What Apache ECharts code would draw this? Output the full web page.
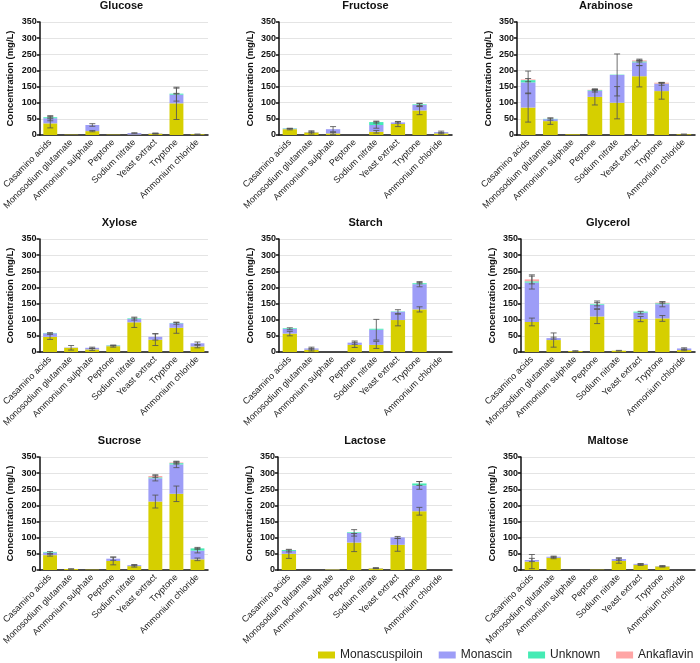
<!DOCTYPE html>
<html>
<head>
    <meta charset="UTF-8">
    <title>Pigments by carbon and nitrogen source</title>
    <script src="https://cdn.jsdelivr.net/npm/echarts@6/dist/echarts.min.js"></script>
    <style>
        html, body { margin: 0; padding: 0; background: #fff; }
    </style>
</head>
<body>
<div id="container" style="width: 700px; height: 663px;"></div>
<script>

    // carbon sources (one panel each) and nitrogen sources (x categories)
    var sugars = ['Glucose', 'Fructose', 'Arabinose', 'Xylose', 'Starch', 'Glycerol', 'Sucrose', 'Lactose', 'Maltose'];
    var nitrogen = ['Casamino acids', 'Monosodium glutamate', 'Ammonium sulphate', 'Peptone',
        'Sodium nitrate', 'Yeast extract', 'Tryptone', 'Ammonium chloride'];
    var pigments = ['Monascuspiloin', 'Monascin', 'Unknown', 'Ankaflavin'];
    var yTicks = [0, 50, 100, 150, 200, 250, 300, 350];

    // mean values (mg/L), one row per sugar
    var monascuspiloin = [
        [36, 1, 12, 1, 1, 4, 98, 2],
        [18, 8, 5, 0, 10, 34, 76, 5],
        [85, 43, 2, 118, 100, 182, 136, 2],
        [47, 13, 8, 18, 92, 38, 75, 17],
        [57, 7, 0, 22, 22, 99, 132, 0],
        [93, 37, 3, 110, 4, 102, 104, 6],
        [46, 3, 1, 28, 12, 212, 236, 33],
        [50, 0, 2, 85, 5, 78, 182, 0],
        [26, 38, 0, 1, 28, 16, 11, 0]
    ];
    var monascin = [
        [16, 0, 19, 0, 5, 1, 27, 0],
        [2, 1, 13, 0, 21, 5, 17, 4],
        [78, 6, 0, 19, 86, 43, 22, 0],
        [11, 1, 5, 2, 10, 9, 14, 10],
        [15, 4, 0, 7, 47, 26, 78, 0],
        [122, 6, 0, 36, 0, 20, 44, 5],
        [8, 0, 0, 7, 3, 72, 91, 27],
        [9, 0, 1, 30, 1, 23, 80, 0],
        [5, 3, 0, 0, 6, 3, 1, 0]
    ];
    var unknown = [
        [3, 0, 0, 0, 0, 0, 3, 0],
        [1, 0, 0, 0, 9, 0, 2, 0],
        [7, 1, 0, 2, 1, 3, 1, 0],
        [1, 0, 0, 1, 2, 0, 1, 0],
        [2, 0, 0, 0, 3, 1, 3, 0],
        [4, 0, 0, 2, 0, 3, 3, 0],
        [2, 0, 0, 0, 0, 3, 4, 7],
        [3, 0, 0, 2, 0, 0, 6, 0],
        [0, 0, 0, 0, 0, 0, 0, 0]
    ];
    var ankaflavin = [
        [0, 0, 0, 0, 0, 0, 0, 0],
        [0, 0, 0, 0, 0, 0, 0, 0],
        [2, 0, 0, 1, 0, 3, 3, 0],
        [0, 0, 0, 0, 0, 0, 0, 0],
        [0, 0, 0, 0, 0, 0, 0, 0],
        [6, 0, 0, 0, 0, 0, 2, 0],
        [0, 0, 0, 0, 0, 4, 2, 0],
        [0, 0, 0, 0, 0, 0, 0, 0],
        [0, 0, 0, 0, 0, 0, 0, 0]
    ];

    // standard deviations, same layout
    var monascuspiloinSd = [
        [14, 0, 2, 0, 0, 1, 50, 1],
        [2, 5, 3, 0, 4, 8, 13, 2],
        [45, 10, 0, 25, 50, 33, 25, 1],
        [8, 7, 3, 3, 16, 18, 17, 4],
        [7, 4, 0, 8, 11, 18, 8, 0],
        [12, 22, 1, 22, 1, 8, 9, 2],
        [3, 1, 0, 12, 3, 20, 24, 4],
        [14, 0, 0, 28, 1, 20, 12, 0],
        [22, 3, 0, 0, 7, 2, 2, 0]
    ];
    var monascinSd = [
        [8, 0, 4, 0, 1, 1, 20, 0],
        [1, 1, 8, 0, 10, 2, 5, 3],
        [35, 3, 0, 4, 65, 10, 4, 0],
        [2, 0, 2, 1, 3, 10, 3, 4],
        [3, 4, 0, 5, 32, 6, 8, 0],
        [20, 3, 0, 12, 0, 4, 8, 2],
        [3, 0, 0, 5, 2, 8, 10, 7],
        [3, 0, 0, 10, 1, 3, 12, 0],
        [5, 2, 0, 0, 4, 1, 1, 0]
    ];
    var unknownSd = [
        [2, 0, 0, 0, 0, 0, 1, 0],
        [0, 0, 0, 0, 3, 0, 3, 0],
        [5, 0, 0, 2, 0, 2, 0, 0],
        [0, 0, 0, 0, 0, 0, 0, 0],
        [0, 0, 0, 0, 0, 0, 2, 0],
        [0, 0, 0, 5, 0, 0, 0, 0],
        [0, 0, 0, 0, 0, 0, 3, 3],
        [0, 0, 0, 0, 0, 0, 6, 0],
        [0, 0, 0, 0, 0, 0, 0, 0]
    ];
    var ankaflavinSd = [
        [0, 0, 0, 0, 0, 0, 0, 0],
        [0, 0, 0, 0, 0, 0, 0, 0],
        [0, 0, 0, 1, 0, 1, 1, 0],
        [0, 0, 0, 0, 0, 0, 0, 0],
        [0, 0, 0, 0, 0, 0, 0, 0],
        [14, 0, 0, 0, 0, 0, 2, 0],
        [0, 0, 0, 0, 0, 4, 2, 0],
        [0, 0, 0, 0, 0, 0, 0, 0],
        [0, 0, 0, 0, 0, 0, 0, 0]
    ];

    var colors = ['#d6cf00', '#9d9df7', '#45ebb4', '#ffa5a5'];
    var means = [monascuspiloin, monascin, unknown, ankaflavin];
    var sds = [monascuspiloinSd, monascinSd, unknownSd, ankaflavinSd];

    // plot area of each panel, in pixels
    var panels = [
        {left: 35, top: 22, width: 173}, {left: 279, top: 22, width: 173}, {left: 517, top: 22, width: 178},
        {left: 31, top: 239, width: 177}, {left: 279, top: 239, width: 173}, {left: 521, top: 239, width: 174},
        {left: 31, top: 457, width: 177}, {left: 278, top: 457, width: 174}, {left: 521, top: 457, width: 174}
    ];
    var plotHeight = 113;
    var font = 'Arial, "Liberation Sans", sans-serif';

    function renderErr(params, api) {
        var x = api.value(0), c = api.value(1), s = api.value(2);
        var hi = api.coord([x, c + s]);
        var lo = api.coord([x, Math.max(0, c - s)]);
        var w = 3;
        var st = {stroke: 'rgba(85,85,85,0.85)', lineWidth: 1};
        return {
            type: 'group',
            children: [
                {type: 'line', shape: {x1: hi[0], y1: hi[1], x2: lo[0], y2: lo[1]}, style: st},
                {type: 'line', shape: {x1: hi[0] - w, y1: hi[1], x2: hi[0] + w, y2: hi[1]}, style: st},
                {type: 'line', shape: {x1: lo[0] - w, y1: lo[1], x2: lo[0] + w, y2: lo[1]}, style: st}
            ]
        };
    }

    var grid = [], xAxis = [], yAxis = [], series = [], title = [];

    for (var g = 0; g < sugars.length; g++) {
        var p = panels[g];
        grid.push({left: p.left, top: p.top, width: p.width, height: plotHeight, containLabel: false});
        title.push({
            text: sugars[g],
            left: p.left + p.width / 2,
            top: p.top - 22,
            textAlign: 'center',
            padding: 0,
            textStyle: {fontSize: 11, fontWeight: 'bold', color: '#111', fontFamily: font}
        });
        xAxis.push({
            type: 'category',
            gridIndex: g,
            data: nitrogen,
            axisLine: {lineStyle: {color: '#111', width: 1.5}},
            axisTick: {alignWithLabel: true, length: 3, lineStyle: {color: '#111', width: 1.5}},
            axisLabel: {rotate: 45, interval: 0, fontSize: 9, color: '#222', margin: 6, fontFamily: font}
        });
        yAxis.push({
            type: 'value',
            gridIndex: g,
            min: 0,
            max: yTicks[yTicks.length - 1],
            interval: yTicks[1] - yTicks[0],
            name: 'Concentration (mg/L)',
            nameLocation: 'middle',
            nameGap: 24,
            nameTextStyle: {fontSize: 9.5, fontWeight: 'bold', color: '#111', fontFamily: font},
            axisLine: {show: true, lineStyle: {color: '#111', width: 1.5}},
            axisTick: {show: true, length: 3, lineStyle: {color: '#111', width: 1.5}},
            axisLabel: {fontSize: 9, fontWeight: 'bold', color: '#111', margin: 3, fontFamily: font},
            splitLine: {lineStyle: {color: '#e4e4e4', width: 1}}
        });

        // stacked bars
        var cum = nitrogen.map(function () { return 0; });
        var errData = [];
        for (var k = 0; k < pigments.length; k++) {
            var vals = means[k][g];
            series.push({
                name: pigments[k],
                type: 'bar',
                xAxisIndex: g,
                yAxisIndex: g,
                stack: 'panel' + g,
                barWidth: '66%',
                itemStyle: {color: colors[k]},
                data: vals
            });
            for (var i = 0; i < nitrogen.length; i++) {
                cum[i] += vals[i];
                if (vals[i] > 0 && sds[k][g][i] > 0) {
                    errData.push([i, cum[i], sds[k][g][i]]);
                }
            }
        }
        // error bars at the top of each stacked segment
        series.push({
            type: 'custom',
            xAxisIndex: g,
            yAxisIndex: g,
            z: 5,
            silent: true,
            renderItem: renderErr,
            data: errData
        });
    }

    var mychart = echarts.init(document.getElementById('container'));
    var option = {
        animation: false,
        color: colors,
        title: title,
        grid: grid,
        xAxis: xAxis,
        yAxis: yAxis,
        legend: {
            data: pigments,
            left: 318,
            top: 649,
            width: 400,
            padding: 0,
            icon: 'rect',
            itemWidth: 17,
            itemHeight: 7,
            itemGap: 16,
            textStyle: {fontSize: 12, color: '#222', fontFamily: font}
        },
        series: series
    };
    mychart.setOption(option);

</script>
</body>
</html>
